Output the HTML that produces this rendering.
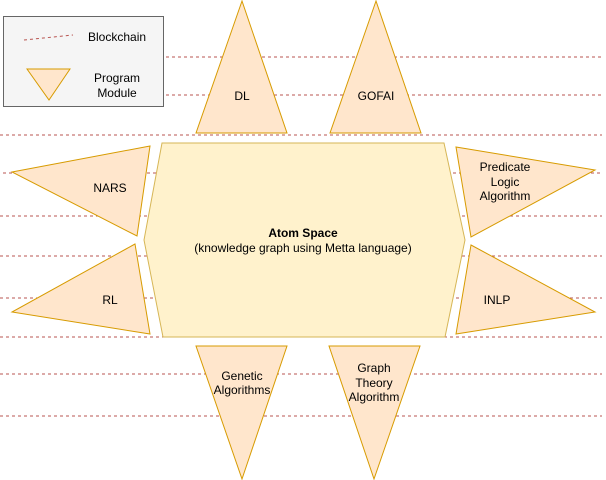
<!DOCTYPE html>
<html><head><meta charset="utf-8"><style>
html,body{margin:0;padding:0;background:#fff;}
svg{display:block;}
text{font-family:"Liberation Sans",Arial,sans-serif;font-size:12px;fill:#000;}
</style></head><body>
<svg width="606" height="480" viewBox="0 0 606 480" xmlns="http://www.w3.org/2000/svg">
<g stroke="#b85450" stroke-width="1" stroke-dasharray="3,3" fill="none">
<line x1="166" y1="57" x2="602" y2="57"/>
<line x1="166" y1="95" x2="602" y2="95"/>
<line x1="0" y1="135" x2="602" y2="135"/>
<line x1="3" y1="173" x2="602" y2="173"/>
<line x1="0" y1="216" x2="602" y2="216"/>
<line x1="0" y1="256" x2="602" y2="256"/>
<line x1="0" y1="298" x2="602" y2="298"/>
<line x1="0" y1="337" x2="602" y2="337"/>
<line x1="0" y1="374" x2="602" y2="374"/>
<line x1="0" y1="416" x2="602" y2="416"/>
</g>
<rect x="3.5" y="16.5" width="160" height="90" fill="#f5f5f5" stroke="#666"/>
<line x1="24" y1="40" x2="73" y2="35" stroke="#b85450" stroke-dasharray="3,3"/>
<polygon points="27,69 70,69 49,100" fill="#ffe6cc" stroke="#d79b00"/>
<text x="88" y="41">Blockchain</text>
<text x="117" y="82" text-anchor="middle">Program</text>
<text x="117" y="97" text-anchor="middle">Module</text>
<g fill="#ffe6cc" stroke="#d79b00" stroke-width="1">
<polygon points="242,1 196,133 287,133"/>
<polygon points="376,1 330,133 421,133"/>
<polygon points="12,172 150,146 137,236"/>
<polygon points="135,244 12,312 150,334"/>
<polygon points="456,147 595,170 471,237"/>
<polygon points="471,245 595,312 456,334"/>
<polygon points="196,346 287,346 242,479"/>
<polygon points="329,346 420,346 374,479"/>
</g>
<polygon points="162,143 444,143 465,240 445,337 163,337 144,240" fill="#fff2cc" stroke="#d6b656"/>
<text x="242" y="100" text-anchor="middle">DL</text>
<text x="376" y="100" text-anchor="middle">GOFAI</text>
<text x="110" y="192" text-anchor="middle">NARS</text>
<text x="110" y="304" text-anchor="middle">RL</text>
<text x="505" y="171" text-anchor="middle">Predicate</text>
<text x="505" y="186" text-anchor="middle">Logic</text>
<text x="505" y="200" text-anchor="middle">Algorithm</text>
<text x="497" y="304" text-anchor="middle">INLP</text>
<text x="303" y="237" text-anchor="middle" font-weight="bold">Atom Space</text>
<text x="303" y="252" text-anchor="middle">(knowledge graph using Metta language)</text>
<text x="242" y="380" text-anchor="middle">Genetic</text>
<text x="242" y="394" text-anchor="middle">Algorithms</text>
<text x="374" y="372" text-anchor="middle">Graph</text>
<text x="374" y="387" text-anchor="middle">Theory</text>
<text x="374" y="401" text-anchor="middle">Algorithm</text>
</svg>
</body></html>
